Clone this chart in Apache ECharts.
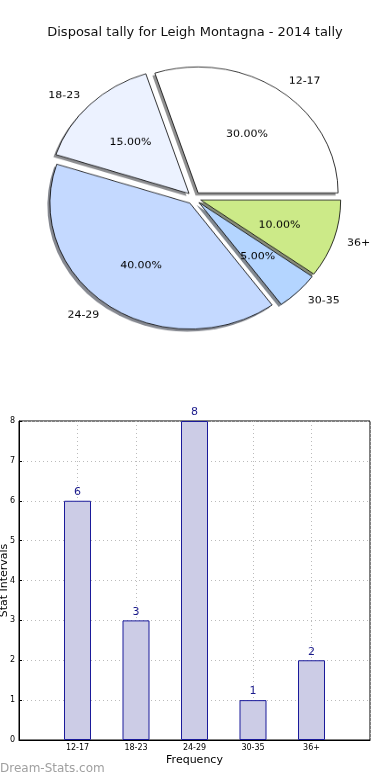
<!DOCTYPE html>
<html>
<head>
<meta charset="utf-8">
<script src="https://cdn.jsdelivr.net/npm/echarts@6/dist/echarts.min.js"></script>
<style>
  html, body { margin: 0; padding: 0; background: #fff; }
  #main { position: absolute; left: 0; top: 0; width: 390px; height: 780px; }
  #pie { position: absolute; left: 0; top: 0; width: 390px; height: 400px;
         transform-origin: 194px 198px; transform: scaleY(0.9); }
</style>
</head>
<body>
<div id="main"></div>
<div id="pie"></div>
<script>
const categories = ['12-17', '18-23', '24-29', '30-35', '36+'];
const counts = [6, 3, 8, 1, 2];
const sliceColors = ['#ffffff', '#ecf2ff', '#c4d9ff', '#b4d5ff', '#ccea88'];
const yTicks = [0, 1, 2, 3, 4, 5, 6, 7, 8];
const titleText = 'Disposal tally for Leigh Montagna - 2014 tally';

const FONT = 'DejaVu Sans';

// ---------- main chart: title + bar chart ----------
const main = echarts.init(document.getElementById('main'), null, { renderer: 'canvas' });
const paddedCats = [''].concat(categories, ['']);
const paddedCounts = [null].concat(counts, [null]);
main.setOption({
  animation: false,
  backgroundColor: '#fff',
  title: {
    text: titleText,
    left: 'center',
    top: 21,
    textStyle: { fontFamily: FONT, fontSize: 13, fontWeight: 'normal', color: '#111' }
  },
  graphic: [{
    type: 'text', left: 0, top: 763,
    style: { text: 'Dream-Stats.com', fontFamily: FONT, fontSize: 12, fill: '#a0a0a0' }
  }],
  grid: { left: 19, right: 20, top: 421, bottom: 40, show: true, borderColor: '#000', borderWidth: 1,
          containLabel: false, outerBoundsMode: 'none' },
  xAxis: {
    type: 'category',
    data: paddedCats,
    boundaryGap: false,
    name: 'Frequency',
    nameLocation: 'middle',
    nameGap: 15,
    nameMoveOverlap: false,
    nameTextStyle: { fontFamily: FONT, fontSize: 11, color: '#000' },
    axisLine: { show: true, lineStyle: { color: '#000', width: 1 } },
    axisTick: { show: false },
    axisLabel: { fontFamily: FONT, fontSize: 8, color: '#000', margin: 4, interval: 0 },
    splitLine: { show: true, lineStyle: { color: '#bbb', type: [1, 3], width: 1 } }
  },
  yAxis: {
    type: 'value',
    min: 0, max: 8, interval: 1,
    name: 'Stat Intervals',
    nameLocation: 'middle',
    nameGap: 9,
    nameMoveOverlap: false,
    nameTextStyle: { fontFamily: FONT, fontSize: 11, color: '#000' },
    axisLine: { show: true, lineStyle: { color: '#000', width: 1 } },
    axisTick: { show: true, inside: true, length: 3, lineStyle: { color: '#000' } },
    axisLabel: { fontFamily: FONT, fontSize: 8, color: '#000', margin: 4,
                 formatter: v => yTicks.indexOf(v) >= 0 ? String(v) : '' },
    splitLine: { show: true, lineStyle: { color: '#bbb', type: [1, 3], width: 1 } }
  },
  series: [{
    type: 'bar',
    data: paddedCounts,
    barWidth: 27,
    itemStyle: { color: '#cccce6', borderColor: '#1a1a9a', borderWidth: 1 },
    label: { show: true, position: 'top', distance: 3, fontFamily: FONT, fontSize: 11, color: '#1a1a8c' },
    silent: true
  }]
});

// ---------- pie chart (elliptical via CSS scaleY) ----------
const pie = echarts.init(document.getElementById('pie'), null, { renderer: 'canvas' });
const R = 140;
const CX = 194, CY = 198;
function shadowOf(hex) {
  const n = parseInt(hex.slice(1), 16);
  const r = Math.round(((n >> 16) & 255) * 0.3), g = Math.round(((n >> 8) & 255) * 0.3), b = Math.round((n & 255) * 0.3);
  return 'rgba(' + r + ',' + g + ',' + b + ',0.62)';
}
const shadowData = categories.map((c, i) => ({
  name: c, value: counts[i], selected: true, itemStyle: { color: shadowOf(sliceColors[i]) }
}));
const pieData = categories.map((c, i) => ({
  name: c, value: counts[i], selected: true, itemStyle: { color: sliceColors[i] }
}));
const pctData = categories.map((c, i) => ({ name: c, value: counts[i], selected: true }));
const common = {
  type: 'pie',
  startAngle: 0,
  clockwise: false,
  selectedMode: 'multiple',
  selectedOffset: 7,
  avoidLabelOverlap: false,
  silent: true,
  emphasis: { disabled: true, scale: false }
};
pie.setOption({
  animation: false,
  series: [Object.assign({}, common, {
    z: 1,
    center: [CX - 2.5, CY + 2.8],
    radius: [0, R],
    itemStyle: { borderWidth: 0 },
    label: { show: false },
    labelLine: { show: false },
    data: shadowData
  }), Object.assign({}, common, {
    z: 2,
    center: [CX, CY],
    radius: [0, R],
    itemStyle: { borderColor: '#000', borderWidth: 0.8 },
    label: { show: true, position: 'outside', distanceToLabelLine: 0,
             fontFamily: FONT, fontSize: 11, color: '#000', formatter: '{b}' },
    labelLine: { show: false, length: 14, length2: 0 },
    data: pieData
  }), Object.assign({}, common, {
    z: 3,
    center: [CX, CY + 2],
    radius: [22, R - 2],
    itemStyle: { color: 'rgba(0,0,0,0)', borderWidth: 0 },
    label: { show: true, position: 'inside', fontFamily: FONT, fontSize: 11, color: '#000',
             formatter: p => p.percent.toFixed(2) + '%' },
    labelLine: { show: false },
    data: pctData
  })]
});
</script>
</body>
</html>
